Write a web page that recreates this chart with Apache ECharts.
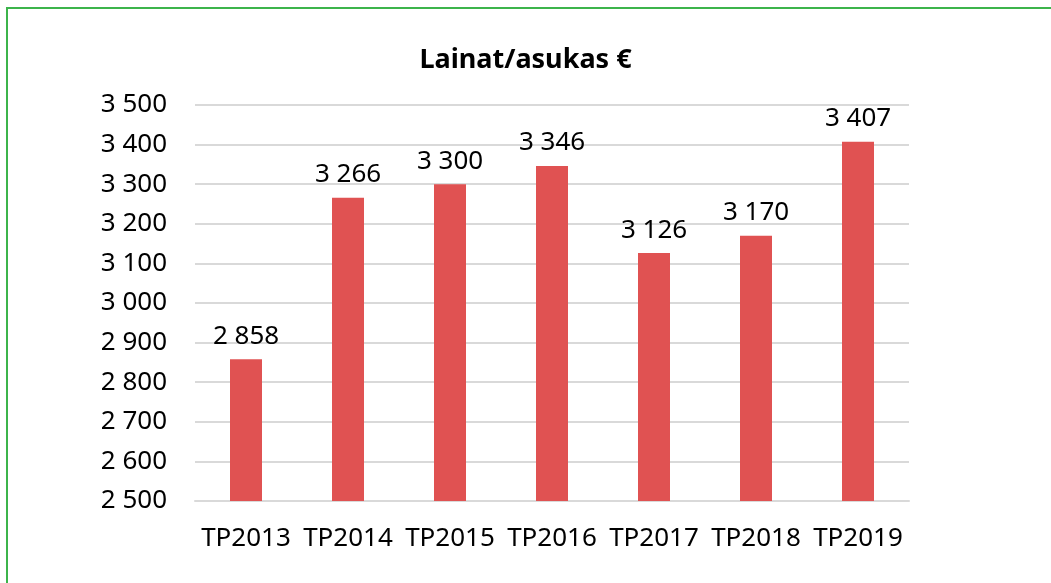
<!DOCTYPE html>
<html>
<head>
<meta charset="utf-8">
<script src="https://cdn.jsdelivr.net/npm/echarts@6/dist/echarts.min.js"></script>
<style>
    html,body{margin:0;padding:0;background:#fff;overflow:hidden}
    #frame{position:absolute;left:6px;top:7px;width:1200px;height:800px;border:2px solid #3cb44b}
    #chart{position:absolute;left:0;top:0;width:1051px;height:583px}
</style>
</head>
<body>
<div id="frame"></div>
<div id="chart"></div>
<script>
const categories = ["TP2013","TP2014","TP2015","TP2016","TP2017","TP2018","TP2019"]
const loansPerResident = [2858,3266,3300,3346,3126,3170,3407]
const yMin = 2500
const yMax = 3500
const yStep = 100

// 3 500 -tyyli: välilyönti tuhaterottimena
const fmt = v => String(v).replace(/\B(?=(\d{3})+(?!\d))/g," ")

const myChart = echarts.init(document.getElementById("chart"))
const option = {
    backgroundColor:"transparent",
    animation:false,
    title:{
        text:"Lainat/asukas €",
        left:"center",
        top:42,
        textStyle:{fontFamily:"Noto Sans",fontSize:27,fontWeight:"bold",color:"#000"}
    },
    grid:{left:195,right:142,top:105,bottom:82},
    xAxis:{
        type:"category",
        data:categories,
        axisLine:{lineStyle:{color:"#d9d9d9",width:2}},
        axisTick:{show:false},
        axisLabel:{fontFamily:"Noto Sans",fontSize:26,color:"#000",margin:25,interval:0}
    },
    yAxis:{
        type:"value",
        min:yMin,
        max:yMax,
        interval:yStep,
        axisLine:{show:false},
        axisTick:{show:false},
        splitLine:{lineStyle:{color:"#d9d9d9",width:2}},
        axisLabel:{fontFamily:"Noto Sans",fontSize:26,color:"#000",margin:28,formatter:fmt}
    },
    series:[{
        type:"bar",
        data:loansPerResident,
        barWidth:32,
        itemStyle:{color:"#e05252"},
        label:{
            show:true,
            position:"top",
            distance:10,
            fontFamily:"Noto Sans",
            fontSize:26,
            color:"#000",
            formatter:p => fmt(p.value)
        }
    }]
}
myChart.setOption(option)
</script>
</body>
</html>
